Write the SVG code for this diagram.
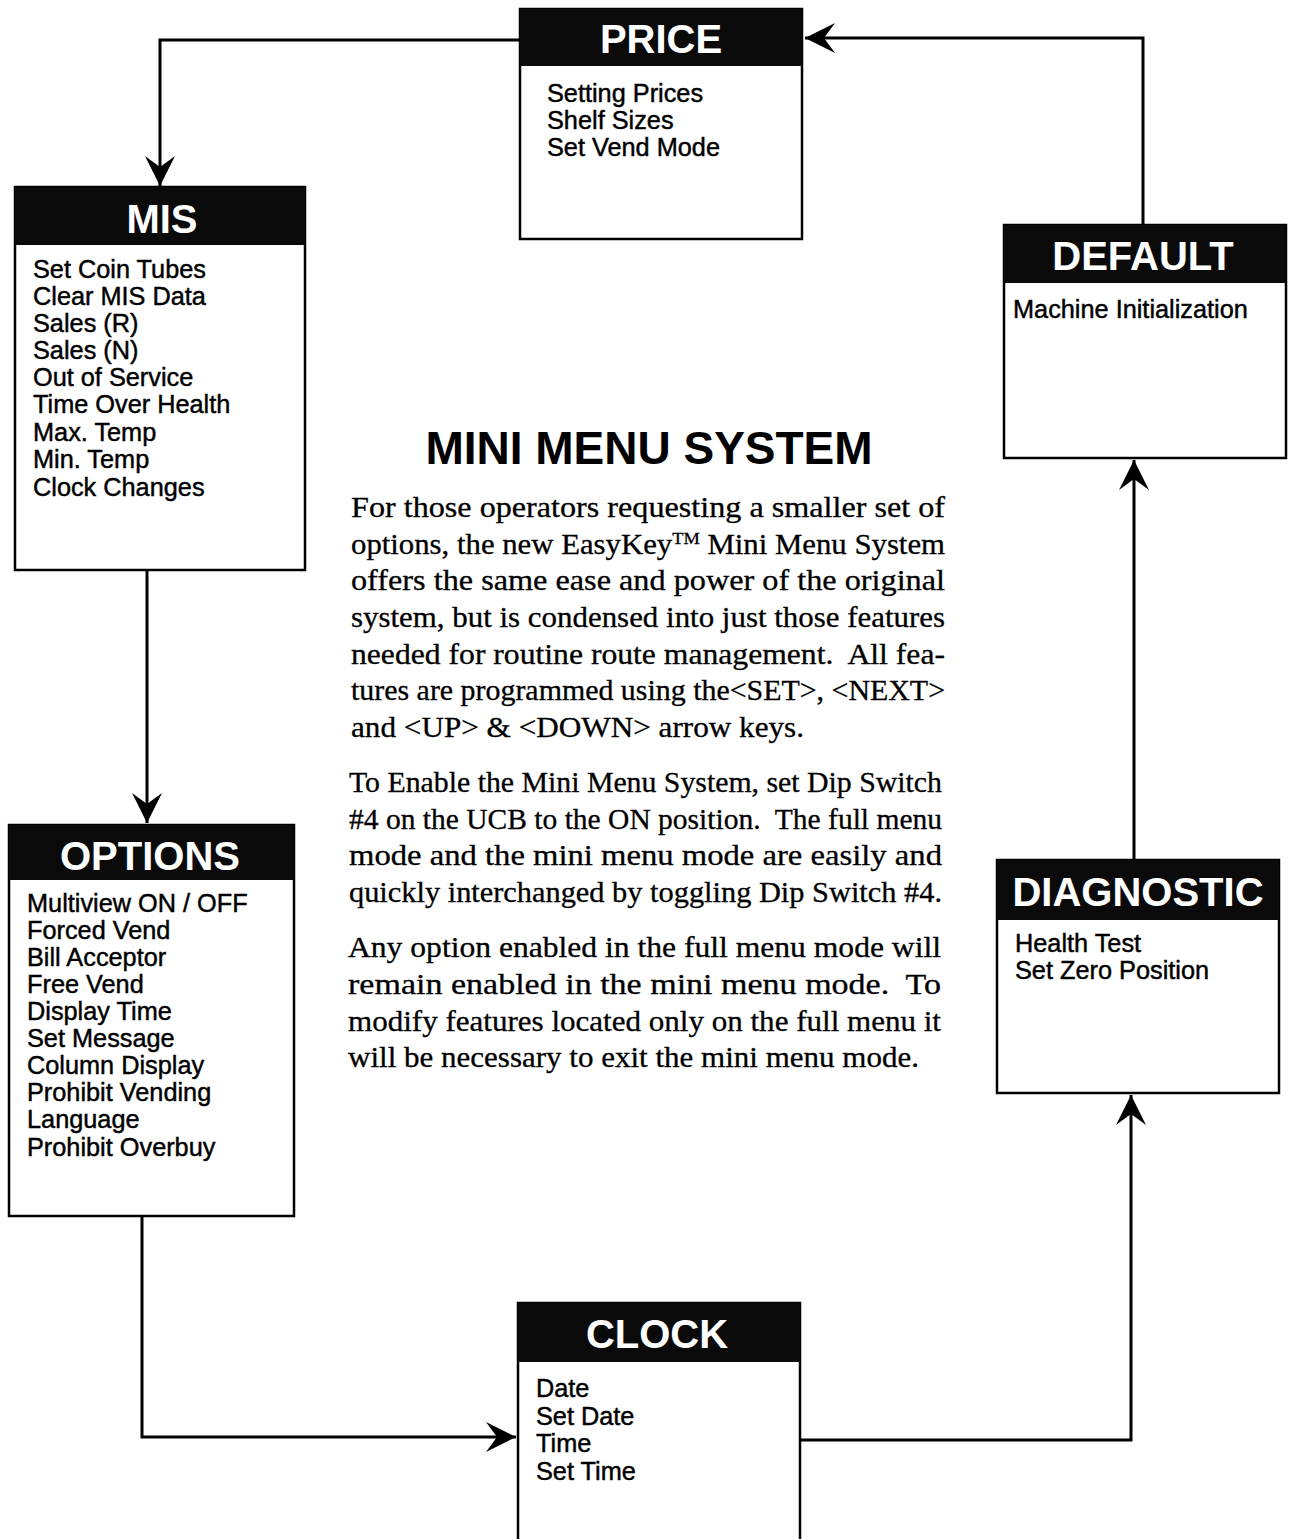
<svg xmlns="http://www.w3.org/2000/svg" width="1289" height="1539" viewBox="0 0 1289 1539">
<style>
.box{fill:#fff;stroke:#000;stroke-width:2.5}
.hdr{fill:#0a0a0a}
.ttl{font-family:"Liberation Sans",Arial,sans-serif;font-weight:bold;font-size:40px;fill:#fff;text-anchor:middle}
.itm{font-family:"Liberation Sans",Arial,sans-serif;font-size:25.3px;fill:#000;stroke:#000;stroke-width:0.45}
.con{fill:none;stroke:#000;stroke-width:3;marker-end:url(#ah)}
.head{font-family:"Liberation Sans",Arial,sans-serif;font-weight:bold;font-size:46px;fill:#000;text-anchor:middle}
.body{font-family:"Liberation Serif","Times New Roman",serif;font-size:28.5px;fill:#000;stroke:#000;stroke-width:0.3}
</style>
<defs>
<marker id="ah" viewBox="-32 -17 34 34" refX="0" refY="0" markerWidth="34" markerHeight="34" markerUnits="userSpaceOnUse" orient="auto">
<path d="M0,0 L-30,-15 L-19,0 L-30,15 Z" fill="#000"/>
</marker>
</defs>
<rect width="1289" height="1539" fill="#fff"/>

<g id="connectors">
<path class="con" d="M522 40 H160 V186"/>
<path class="con" d="M147 570 V823"/>
<path class="con" d="M142 1216 V1437 H516"/>
<path class="con" d="M800 1440 H1131 V1095"/>
<path class="con" d="M1134 860 V460"/>
<path class="con" d="M1143 225 V38 H805"/>
</g>

<g id="price">
<rect class="box" x="520" y="9" width="282" height="230"/>
<rect class="hdr" x="520" y="9" width="282" height="57"/>
<text class="ttl" x="661" y="53">PRICE</text>
<text class="itm" x="547" y="102">Setting Prices</text>
<text class="itm" x="547" y="129">Shelf Sizes</text>
<text class="itm" x="547" y="156">Set Vend Mode</text>
</g>

<g id="mis">
<rect class="box" x="15" y="187" width="290" height="383"/>
<rect class="hdr" x="15" y="187" width="290" height="58"/>
<text class="ttl" x="162" y="233">MIS</text>
<text class="itm" x="33" y="278">Set Coin Tubes</text>
<text class="itm" x="33" y="305">Clear MIS Data</text>
<text class="itm" x="33" y="332">Sales (R)</text>
<text class="itm" x="33" y="359">Sales (N)</text>
<text class="itm" x="33" y="386">Out of Service</text>
<text class="itm" x="33" y="413">Time Over Health</text>
<text class="itm" x="33" y="441">Max. Temp</text>
<text class="itm" x="33" y="468">Min. Temp</text>
<text class="itm" x="33" y="496">Clock Changes</text>
</g>

<g id="default">
<rect class="box" x="1004" y="225" width="282" height="233"/>
<rect class="hdr" x="1004" y="225" width="282" height="58"/>
<text class="ttl" x="1143" y="270">DEFAULT</text>
<text class="itm" x="1013" y="318">Machine Initialization</text>
</g>

<g id="options">
<rect class="box" x="9" y="825" width="285" height="391"/>
<rect class="hdr" x="9" y="825" width="285" height="55"/>
<text class="ttl" x="150" y="870">OPTIONS</text>
<text class="itm" x="27" y="912">Multiview ON / OFF</text>
<text class="itm" x="27" y="939">Forced Vend</text>
<text class="itm" x="27" y="966">Bill Acceptor</text>
<text class="itm" x="27" y="993">Free Vend</text>
<text class="itm" x="27" y="1020">Display Time</text>
<text class="itm" x="27" y="1047">Set Message</text>
<text class="itm" x="27" y="1074">Column Display</text>
<text class="itm" x="27" y="1101">Prohibit Vending</text>
<text class="itm" x="27" y="1128">Language</text>
<text class="itm" x="27" y="1156">Prohibit Overbuy</text>
</g>

<g id="diagnostic">
<rect class="box" x="997" y="860" width="282" height="233"/>
<rect class="hdr" x="997" y="860" width="282" height="60"/>
<text class="ttl" x="1138" y="906">DIAGNOSTIC</text>
<text class="itm" x="1015" y="952">Health Test</text>
<text class="itm" x="1015" y="979">Set Zero Position</text>
</g>

<g id="clock">
<rect class="box" x="518" y="1303" width="282" height="245"/>
<rect class="hdr" x="518" y="1303" width="282" height="59"/>
<text class="ttl" x="657" y="1348">CLOCK</text>
<text class="itm" x="536" y="1397">Date</text>
<text class="itm" x="536" y="1425">Set Date</text>
<text class="itm" x="536" y="1452">Time</text>
<text class="itm" x="536" y="1480">Set Time</text>
</g>

<g id="description">
<text class="head" x="649" y="464">MINI MENU SYSTEM</text>
<text class="body" x="351" y="517" textLength="594" lengthAdjust="spacingAndGlyphs">For those operators requesting a smaller set of</text>
<text class="body" x="351" y="554" textLength="594" lengthAdjust="spacingAndGlyphs">options, the new EasyKey<tspan font-size="17" dy="-10">TM</tspan><tspan dy="10"> Mini Menu System</tspan></text>
<text class="body" x="351" y="590" textLength="594" lengthAdjust="spacingAndGlyphs">offers the same ease and power of the original</text>
<text class="body" x="351" y="627" textLength="594" lengthAdjust="spacingAndGlyphs">system, but is condensed into just those features</text>
<text class="body" x="351" y="664" textLength="594" lengthAdjust="spacingAndGlyphs">needed for routine route management.&#160; All fea-</text>
<text class="body" x="351" y="700" textLength="594" lengthAdjust="spacingAndGlyphs">tures are programmed using the&lt;SET&gt;, &lt;NEXT&gt;</text>
<text class="body" x="351" y="737" textLength="453" lengthAdjust="spacingAndGlyphs">and &lt;UP&gt; &amp; &lt;DOWN&gt; arrow keys.</text>
<text class="body" x="349" y="792" textLength="593" lengthAdjust="spacingAndGlyphs">To Enable the Mini Menu System, set Dip Switch</text>
<text class="body" x="349" y="829" textLength="593" lengthAdjust="spacingAndGlyphs">#4 on the UCB to the ON position.&#160; The full menu</text>
<text class="body" x="349" y="865" textLength="593" lengthAdjust="spacingAndGlyphs">mode and the mini menu mode are easily and</text>
<text class="body" x="349" y="902" textLength="593" lengthAdjust="spacingAndGlyphs">quickly interchanged by toggling Dip Switch #4.</text>
<text class="body" x="348" y="957" textLength="593" lengthAdjust="spacingAndGlyphs">Any option enabled in the full menu mode will</text>
<text class="body" x="348" y="994" textLength="593" lengthAdjust="spacingAndGlyphs">remain enabled in the mini menu mode.&#160; To</text>
<text class="body" x="348" y="1031" textLength="593" lengthAdjust="spacingAndGlyphs">modify features located only on the full menu it</text>
<text class="body" x="348" y="1067" textLength="571" lengthAdjust="spacingAndGlyphs">will be necessary to exit the mini menu mode.</text>
</g>
</svg>
